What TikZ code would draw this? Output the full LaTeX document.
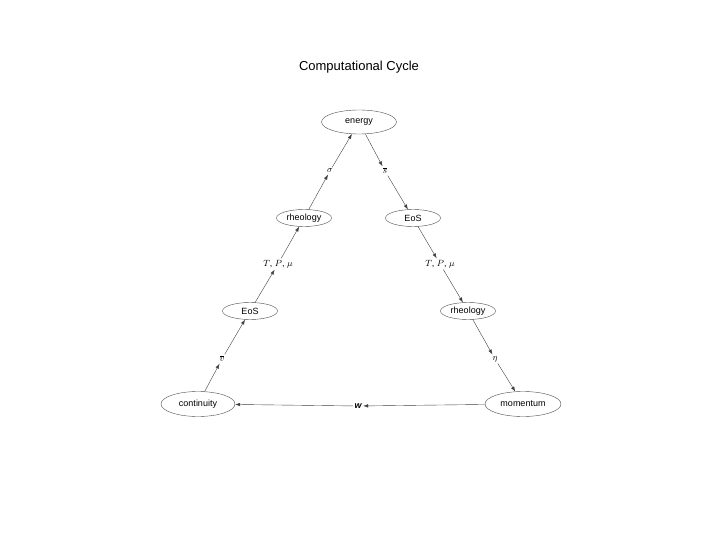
\documentclass[tikz,border=0pt]{standalone}
\usepackage{fontspec}
\setmainfont{Liberation Sans}
\usetikzlibrary{shapes.geometric,arrows.meta}
\begin{document}
\begin{tikzpicture}[x=1pt,y=-1pt,
  st/.style={ellipse,draw=black!70,thin,inner sep=0pt,font=\fontsize{9}{10}\selectfont},
  lb/.style={inner sep=1.5pt,font=\fontsize{9}{10}\selectfont},
  ar/.style={-{Latex[length=5pt,width=3.5pt]},black!75,thin}]
\useasboundingbox (0,0) rectangle (720,540);
\node[font=\fontsize{13}{15}\selectfont] (title) at (359,67) {Computational Cycle};
\node[st,minimum width=75pt,minimum height=24pt] (energy) at (359,122) {energy};
\node[st,minimum width=55pt,minimum height=17pt] (rhL) at (304,218) {rheology};
\node[st,minimum width=55pt,minimum height=17pt] (eosR) at (413,218) {EoS};
\node[st,minimum width=55pt,minimum height=17pt] (eosL) at (250,311) {EoS};
\node[st,minimum width=55pt,minimum height=17pt] (rhR) at (468,311) {rheology};
\node[st,minimum width=74pt,minimum height=25pt] (cont) at (198,404) {continuity};
\node[st,minimum width=76pt,minimum height=25pt] (mom) at (523,404) {momentum};
\node[lb] (sig) at (330,171) {$\sigma$};
\node[lb] (sbar) at (385,171) {$\overline{s}$};
\node[lb] (tpL) at (278,264) {$T$, $P$, $\mu$};
\node[lb] (tpR) at (440,264) {$T$, $P$, $\mu$};
\node[lb] (vbar) at (222,359) {$\overline{v}$};
\node[lb] (eta) at (495,359) {$\eta$};
\node[lb,font=\fontsize{9}{10}\selectfont\bfseries\itshape] (w) at (358,406) {w};
\draw[ar] (cont) -- (vbar); \draw[ar] (vbar) -- (eosL);
\draw[ar] (eosL) -- (tpL); \draw[ar] (tpL) -- (rhL);
\draw[ar] (rhL) -- (sig); \draw[ar] (sig) -- (energy);
\draw[ar] (energy) -- (sbar); \draw[ar] (sbar) -- (eosR);
\draw[ar] (eosR) -- (tpR); \draw[ar] (tpR) -- (rhR);
\draw[ar] (rhR) -- (eta); \draw[ar] (eta) -- (mom);
\draw[ar] (mom) -- (w); \draw[ar] (w) -- (cont);
\end{tikzpicture}
\end{document}
